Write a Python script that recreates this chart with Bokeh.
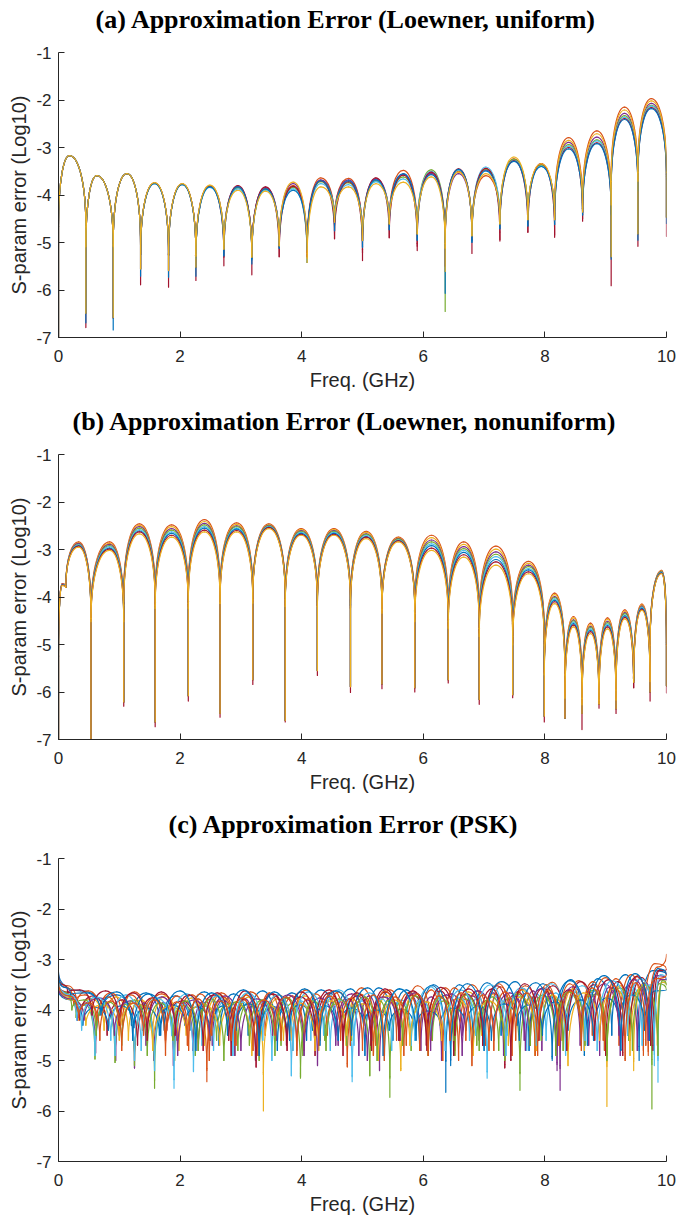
from bokeh.plotting import figure
from bokeh.layouts import column
from bokeh.models import Range1d, FixedTicker, Title
from bokeh.embed import file_html
from bokeh.resources import INLINE

# ---------------- colours (MATLAB default order) ----------------
C_BLUE, C_ORANGE, C_YELLOW = "#0072BD", "#D95319", "#EDB120"
C_PURPLE, C_GREEN, C_LBLUE, C_RED = "#7E2F8E", "#77AC30", "#4DBEEE", "#A2142F"

x_ticks = [0, 2, 4, 6, 8, 10]
x_tick_labels = ["0", "2", "4", "6", "8", "10"]
y_ticks = [-7, -6, -5, -4, -3, -2, -1]
y_tick_labels = ["-7", "-6", "-5", "-4", "-3", "-2", "-1"]

titles = ["(a) Approximation Error (Loewner, uniform)",
          "(b) Approximation Error (Loewner, nonuniform)",
          "(c) Approximation Error (PSK)"]
x_label = "Freq. (GHz)"
y_label = "S-param error (Log10)"

# ---------------- panel (a): notch positions, notch depths, arch peaks ----------------
a_dip_x = [0.0, 0.45, 0.90, 1.35, 1.81, 2.26, 2.72, 3.18, 3.63, 4.09, 4.54, 5.0,
           5.44, 5.90, 6.36, 6.80, 7.26, 7.72, 8.16, 8.62, 9.09, 9.53, 10.0]
a_peak_x = [0.18, 0.63, 1.125, 1.58, 2.035, 2.49, 2.95, 3.405, 3.86, 4.315, 4.77, 5.22,
            5.67, 6.13, 6.58, 7.03, 7.49, 7.94, 8.39, 8.855, 9.31, 9.75]
a_dip_Y = [-7.2, -6.49, -6.58, -5.56, -5.59, -5.52, -5.14, -5.31, -5.07, -5.42, -4.57, -4.96,
           -4.61, -4.82, -5.61, -4.86, -4.61, -4.52, -4.52, -4.36, -5.30, -4.82, -4.47]
a_dip_B = [-7.2, -6.69, -6.84, -5.71, -5.73, -5.71, -5.28, -5.45, -5.12, -5.15, -4.75, -5.10,
           -4.73, -4.95, -6.07, -5.00, -4.71, -4.65, -4.62, -4.42, -5.35, -4.95, -4.60]
a_dip_R = [-7.2, -6.79, -6.60, -5.89, -5.94, -5.80, -5.49, -5.68, -5.30, -5.30, -4.92, -5.38,
           -4.90, -5.17, -5.50, -5.23, -4.97, -4.78, -4.89, -4.55, -5.91, -5.08, -4.87]
a_dip_G = [-7.2, -6.49, -6.58, -5.56, -5.59, -5.52, -5.14, -5.31, -5.07, -5.42, -4.57, -4.96,
           -4.61, -4.82, -6.45, -4.86, -4.61, -4.52, -4.52, -4.36, -5.30, -4.82, -4.47]
a_peak_O = [-3.17, -3.59, -3.55, -3.75, -3.77, -3.80, -3.84, -3.86, -3.80, -3.64, -3.65,
            -3.70, -3.48, -3.55, -3.50, -3.59, -3.24, -3.36, -2.79, -2.65, -2.15, -1.97]
a_peak_P = [-3.17, -3.59, -3.55, -3.75, -3.77, -3.81, -3.82, -3.84, -3.76, -3.68, -3.68,
            -3.66, -3.56, -3.54, -3.55, -3.47, -3.26, -3.38, -2.89, -2.78, -2.28, -2.07]
a_peak_G = [-3.17, -3.59, -3.55, -3.75, -3.77, -3.82, -3.85, -3.88, -3.84, -3.72, -3.74,
            -3.70, -3.62, -3.47, -3.47, -3.45, -3.25, -3.37, -2.94, -2.84, -2.33, -2.11]
a_peak_L = [-3.17, -3.59, -3.55, -3.76, -3.78, -3.84, -3.87, -3.90, -3.87, -3.76, -3.78,
            -3.72, -3.66, -3.50, -3.47, -3.41, -3.27, -3.39, -2.97, -2.86, -2.36, -2.13]
a_peak_R = [-3.17, -3.59, -3.55, -3.75, -3.77, -3.81, -3.80, -3.83, -3.82, -3.70, -3.72,
            -3.64, -3.58, -3.52, -3.45, -3.44, -3.28, -3.34, -3.00, -2.90, -2.39, -2.16]
a_peak_B = [-3.17, -3.59, -3.55, -3.76, -3.78, -3.83, -3.83, -3.87, -3.90, -3.70, -3.70,
            -3.68, -3.55, -3.57, -3.46, -3.49, -3.29, -3.40, -3.03, -2.92, -2.41, -2.18]
a_peak_Y = [-3.17, -3.59, -3.55, -3.74, -3.76, -3.79, -3.90, -3.92, -3.73, -3.83, -3.83,
            -3.76, -3.73, -3.62, -3.52, -3.55, -3.20, -3.34, -2.85, -2.71, -2.21, -2.02]

# ---------------- panel (b) ----------------
b_dip_x = [0.0, 0.12, 0.534, 1.073, 1.59, 2.135, 2.657, 3.196, 3.729, 4.258, 4.802, 5.32,
           5.86, 6.41, 6.92, 7.47, 7.99, 8.33, 8.61, 8.89, 9.17, 9.46, 9.73, 10.0]
b_peak_x = [0.06, 0.33, 0.84, 1.33, 1.86, 2.40, 2.93, 3.46, 3.99, 4.53, 5.06, 5.59,
            6.135, 6.665, 7.195, 7.73, 8.16, 8.47, 8.75, 9.03, 9.315, 9.595, 9.92]
b_dip_Y = [-7.2, -3.80, -7.2, -6.21, -6.63, -6.08, -6.45, -5.74, -6.60, -5.55, -5.89, -5.83,
           -5.91, -5.74, -6.16, -6.06, -6.51, -6.55, -6.45, -6.25, -6.35, -5.79, -6.00, -5.87]
b_dip_R = [-7.2, -3.80, -7.2, -6.30, -6.73, -6.19, -6.53, -5.84, -6.63, -5.65, -6.01, -5.93,
           -6.00, -5.81, -6.26, -6.12, -6.63, -6.55, -6.79, -6.34, -6.45, -5.91, -6.19, -6.02]
b_peak_O = [-3.72, -2.84, -2.84, -2.46, -2.48, -2.37, -2.44, -2.46, -2.56, -2.56, -2.62, -2.74,
            -2.70, -2.84, -2.93, -3.25, -3.92, -4.41, -4.55, -4.44, -4.27, -4.15, -3.44]
b_peak_Ya = [-3.73, -2.86, -2.87, -2.49, -2.52, -2.41, -2.47, -2.48, -2.58, -2.58, -2.64, -2.76,
             -2.75, -2.89, -2.99, -3.29, -3.95, -4.44, -4.58, -4.47, -4.30, -4.17, -3.45]
b_peak_P = [-3.73, -2.87, -2.89, -2.52, -2.56, -2.45, -2.50, -2.49, -2.60, -2.60, -2.67, -2.77,
            -2.80, -2.94, -3.05, -3.33, -3.99, -4.48, -4.62, -4.51, -4.33, -4.19, -3.46]
b_peak_G = [-3.74, -2.89, -2.92, -2.55, -2.59, -2.48, -2.52, -2.50, -2.62, -2.62, -2.68, -2.78,
            -2.84, -2.98, -3.10, -3.36, -4.01, -4.50, -4.64, -4.54, -4.35, -4.21, -3.47]
b_peak_L = [-3.74, -2.90, -2.94, -2.58, -2.63, -2.52, -2.55, -2.52, -2.64, -2.64, -2.70, -2.80,
            -2.88, -3.02, -3.15, -3.40, -4.04, -4.53, -4.67, -4.57, -4.38, -4.22, -3.48]
b_peak_B = [-3.75, -2.92, -2.97, -2.61, -2.66, -2.55, -2.57, -2.53, -2.66, -2.66, -2.73, -2.81,
            -2.92, -3.06, -3.21, -3.43, -4.07, -4.56, -4.70, -4.60, -4.40, -4.24, -3.49]
b_peak_R = [-3.75, -2.93, -2.99, -2.63, -2.70, -2.59, -2.60, -2.54, -2.68, -2.68, -2.74, -2.82,
            -2.97, -3.11, -3.26, -3.47, -4.10, -4.59, -4.73, -4.63, -4.43, -4.26, -3.50]
b_peak_Y = [-3.76, -2.95, -3.02, -2.67, -2.74, -2.63, -2.63, -2.56, -2.70, -2.70, -2.77, -2.84,
            -3.02, -3.16, -3.33, -3.51, -4.14, -4.63, -4.77, -4.67, -4.46, -4.28, -3.51]

# ---------------- panel (c): each trace has its own notches ----------------
c_B1_x = [0, 0.72, 1.20, 1.68, 2.16, 2.64, 3.12, 3.60, 4.08, 4.56, 5.04, 5.50, 5.94, 6.37,
          6.82, 7.28, 7.74, 8.20, 8.65, 9.10, 9.55, 10.0]
c_B1_d = [-3.25, -4.0, -4.3, -4.5, -4.4, -4.7, -4.5, -4.8, -4.6, -4.5, -4.9, -4.6, -4.8, -5.63,
          -4.7, -4.5, -4.8, -4.6, -4.9, -4.5, -5.0, -3.3]
c_B1_p = [-3.62, -3.70, -3.66, -3.72, -3.64, -3.68, -3.62, -3.66, -3.60, -3.58, -3.56, -3.60,
          -3.52, -3.50, -3.46, -3.44, -3.48, -3.40, -3.38, -3.30, -3.22]

c_O1_x = [0, 0.30, 0.68, 1.05, 1.45, 1.95, 2.44, 2.92, 3.40, 3.85, 4.30, 4.75, 5.22, 5.68,
          6.14, 6.58, 7.02, 7.46, 7.90, 8.34, 8.78, 9.22, 9.62, 10.0]
c_O1_d = [-3.35, -3.9, -4.1, -4.3, -4.4, -4.6, -5.42, -4.7, -4.5, -4.8, -4.6, -5.13, -4.7, -4.9,
          -4.6, -5.0, -4.7, -4.9, -4.6, -4.8, -4.5, -4.7, -4.9, -3.2]
c_O1_p = [-3.52, -3.62, -3.66, -3.64, -3.68, -3.70, -3.66, -3.64, -3.70, -3.60, -3.62, -3.56,
          -3.60, -3.52, -3.56, -3.50, -3.48, -3.52, -3.45, -3.42, -3.36, -3.30, -3.08]

c_Y1_x = [0, 0.33, 0.75, 1.15, 1.55, 1.98, 2.40, 2.90, 3.37, 3.82, 4.28, 4.73, 5.18, 5.63,
          6.08, 6.52, 6.96, 7.40, 7.84, 8.28, 8.65, 9.02, 9.46, 9.80, 10.0]
c_Y1_d = [-3.45, -4.2, -4.4, -4.6, -4.5, -4.8, -4.7, -4.9, -6.0, -4.6, -4.8, -4.7, -4.9, -5.2,
          -4.6, -4.8, -4.5, -4.7, -4.9, -4.6, -4.8, -5.91, -5.2, -4.7, -3.4]
c_Y1_p = [-3.75, -3.78, -3.74, -3.80, -3.72, -3.76, -3.70, -3.74, -3.78, -3.72, -3.76, -3.68,
          -3.72, -3.66, -3.70, -3.64, -3.68, -3.60, -3.64, -3.58, -3.62, -3.52, -3.46, -3.40]

c_P_x = [0, 0.31, 0.61, 0.94, 1.25, 1.57, 1.89, 2.21, 2.53, 2.90, 3.24, 3.58, 3.92, 4.26, 4.60,
         4.94, 5.28, 5.62, 5.96, 6.30, 6.64, 6.98, 7.32, 7.66, 7.95, 8.25, 8.58, 8.90, 9.22,
         9.52, 9.80, 10.0]
c_P_d = [-3.5, -4.2, -4.85, -5.0, -5.15, -5.0, -5.1, -4.8, -4.7, -4.9, -5.0, -4.6, -4.8, -5.1,
         -4.7, -4.9, -5.2, -4.6, -4.8, -5.0, -4.5, -4.7, -4.9, -4.6, -4.8, -5.59, -4.7, -4.9,
         -4.5, -4.8, -4.6, -3.4]
c_P_p = [-3.68, -3.86, -3.85, -3.84, -3.86, -3.85, -3.86, -3.84, -3.80, -3.78, -3.82, -3.76,
         -3.80, -3.74, -3.78, -3.72, -3.76, -3.70, -3.74, -3.68, -3.72, -3.66, -3.70, -3.62,
         -3.66, -3.60, -3.64, -3.55, -3.52, -3.46, -3.40]

c_G_x = [0, 0.29, 0.60, 0.93, 1.25, 1.58, 1.91, 2.25, 2.60, 2.95, 3.30, 3.66, 4.02, 4.38, 4.74,
         5.12, 5.45, 5.80, 6.15, 6.52, 6.88, 7.24, 7.59, 7.94, 8.30, 8.66, 9.02, 9.38, 9.76, 10.0]
c_G_d = [-3.55, -4.15, -4.97, -5.04, -5.1, -5.55, -5.0, -4.9, -4.6, -4.8, -5.0, -4.7, -4.9, -4.6,
         -4.7, -5.3, -5.73, -4.8, -4.6, -4.9, -4.7, -4.8, -5.59, -4.6, -4.8, -4.7, -4.9, -4.6,
         -5.96, -3.6]
c_G_p = [-3.70, -3.90, -3.87, -3.88, -3.90, -3.88, -3.90, -3.92, -3.88, -3.86, -3.90, -3.87,
         -3.85, -3.88, -3.84, -3.82, -3.85, -3.80, -3.82, -3.78, -3.80, -3.76, -3.74, -3.72,
         -3.70, -3.68, -3.62, -3.58, -3.48]

c_L_x = [0, 0.30, 0.60, 0.93, 1.25, 1.58, 1.90, 2.22, 2.55, 2.87, 3.19, 3.51, 3.83, 4.15, 4.47,
         4.83, 5.16, 5.48, 5.80, 6.12, 6.45, 6.76, 7.05, 7.38, 7.70, 8.02, 8.34, 8.66, 8.98,
         9.30, 9.60, 9.86, 10.0]
c_L_d = [-3.45, -4.2, -4.9, -4.9, -5.0, -5.2, -5.55, -5.22, -4.8, -4.9, -4.7, -5.0, -5.3, -4.6,
         -4.8, -5.42, -4.6, -4.8, -4.7, -4.5, -4.9, -4.6, -5.35, -4.5, -4.8, -4.6, -4.9, -4.6,
         -4.8, -4.5, -4.7, -5.43, -3.5]
c_L_p = [-3.72, -3.88, -3.86, -3.86, -3.88, -3.87, -3.88, -3.86, -3.85, -3.84, -3.85, -3.83,
         -3.82, -3.83, -3.80, -3.82, -3.78, -3.80, -3.76, -3.74, -3.75, -3.73, -3.72, -3.70,
         -3.68, -3.66, -3.65, -3.62, -3.58, -3.55, -3.50, -3.45]

c_R_x = [0, 0.35, 0.80, 1.30, 1.78, 2.30, 2.80, 3.25, 3.75, 4.22, 4.68, 5.15, 5.60, 6.05, 6.50,
         6.92, 7.34, 7.76, 8.18, 8.60, 9.00, 9.40, 9.78, 10.0]
c_R_d = [-3.5, -4.2, -4.5, -4.7, -4.4, -4.8, -4.6, -5.13, -4.7, -4.9, -4.6, -4.8, -4.5, -4.7,
         -4.9, -4.6, -5.15, -4.7, -4.8, -4.5, -4.9, -4.6, -4.8, -3.3]
c_R_p = [-3.65, -3.72, -3.80, -3.76, -3.82, -3.70, -3.78, -3.68, -3.74, -3.66, -3.72, -3.64,
         -3.70, -3.62, -3.68, -3.58, -3.64, -3.56, -3.60, -3.50, -3.44, -3.36, -3.20]

c_B2_x = [0, 0.40, 0.82, 1.24, 1.66, 2.08, 2.50, 2.92, 3.34, 3.76, 4.18, 4.60, 5.02, 5.44, 5.86,
          6.28, 6.70, 7.12, 7.54, 7.96, 8.38, 8.80, 9.22, 9.64, 10.0]
c_B2_d = [-3.6, -4.3, -4.4, -4.35, -4.5, -4.3, -4.6, -4.4, -4.3, -4.5, -4.4, -4.6, -4.3, -4.4,
          -4.5, -4.3, -4.4, -4.6, -4.3, -4.5, -4.4, -4.6, -4.3, -4.4, -3.6]
c_B2_p = [-3.80, -3.95, -3.92, -3.96, -3.90, -3.94, -3.92, -3.88, -3.94, -3.90, -3.92, -3.96,
          -4.00, -3.98, -4.02, -3.96, -3.92, -3.88, -3.90, -3.84, -3.80, -3.76, -3.70, -3.62]

c_O2_x = [0, 0.25, 0.62, 1.00, 1.38, 1.76, 2.14, 2.52, 2.90, 3.28, 3.66, 4.04, 4.42, 4.80, 5.18,
          5.56, 5.94, 6.32, 6.70, 7.08, 7.46, 7.84, 8.22, 8.60, 8.98, 9.36, 9.70, 10.0]
c_O2_d = [-3.4, -3.9, -4.3, -4.5, -4.4, -4.6, -4.8, -4.5, -4.7, -4.9, -4.6, -4.8, -4.5, -4.7,
          -4.9, -4.6, -4.8, -5.0, -4.6, -4.8, -4.5, -4.9, -4.7, -4.6, -4.8, -4.5, -4.9, -2.9]
c_O2_p = [-3.55, -3.70, -3.74, -3.70, -3.76, -3.72, -3.68, -3.74, -3.70, -3.66, -3.72, -3.68,
          -3.64, -3.70, -3.62, -3.66, -3.60, -3.56, -3.62, -3.54, -3.58, -3.50, -3.48, -3.44,
          -3.38, -3.32, -3.15]

c_Y2_x = [0, 0.45, 1.00, 1.55, 2.10, 2.65, 3.18, 3.70, 4.22, 4.74, 5.26, 5.78, 6.30, 6.82, 7.34,
          7.86, 8.38, 8.90, 9.40, 9.85, 10.0]
c_Y2_d = [-3.5, -4.3, -4.6, -4.8, -4.5, -4.7, -4.9, -4.6, -4.8, -4.5, -5.0, -4.7, -4.6, -4.9,
          -4.7, -4.8, -5.1, -4.6, -4.9, -4.7, -3.5]
c_Y2_p = [-3.80, -3.90, -3.86, -3.92, -3.88, -3.84, -3.90, -3.86, -3.82, -3.88, -3.80, -3.84,
          -3.78, -3.82, -3.74, -3.70, -3.66, -3.58, -3.50, -3.45]

c_P2_x = [0, 0.42, 0.92, 1.44, 1.96, 2.48, 3.00, 3.52, 4.04, 4.56, 5.08, 5.60, 6.12, 6.64, 7.16,
          7.68, 8.20, 8.72, 9.24, 9.70, 10.0]
c_P2_d = [-3.55, -4.2, -4.5, -4.7, -4.9, -4.6, -4.8, -4.5, -4.9, -4.7, -5.0, -4.6, -4.8, -4.9,
          -4.6, -4.8, -5.2, -4.7, -4.9, -4.6, -3.4]
c_P2_p = [-3.78, -3.76, -3.82, -3.74, -3.80, -3.72, -3.78, -3.70, -3.76, -3.68, -3.74, -3.66,
          -3.70, -3.62, -3.66, -3.58, -3.54, -3.48, -3.40, -3.32]

c_G2_x = [0, 0.22, 0.62, 1.04, 1.46, 1.88, 2.30, 2.72, 3.14, 3.56, 3.98, 4.40, 4.82, 5.24, 5.66,
          6.08, 6.50, 6.92, 7.34, 7.76, 8.18, 8.60, 9.02, 9.44, 9.86, 10.0]
c_G2_d = [-3.5, -4.0, -4.5, -4.7, -4.9, -4.6, -4.8, -5.0, -4.7, -4.9, -5.35, -4.8, -4.6, -5.0,
          -4.7, -4.9, -4.6, -4.8, -5.0, -4.7, -4.9, -4.6, -5.0, -4.8, -4.9, -3.5]
c_G2_p = [-3.65, -3.80, -3.84, -3.80, -3.86, -3.82, -3.78, -3.84, -3.80, -3.76, -3.82, -3.78,
          -3.74, -3.80, -3.72, -3.76, -3.70, -3.74, -3.68, -3.70, -3.64, -3.60, -3.56, -3.50,
          -3.42]

c_L2_x = [0, 0.38, 0.86, 1.36, 1.86, 2.36, 2.86, 3.36, 3.86, 4.36, 4.86, 5.36, 5.86, 6.36, 6.86,
          7.36, 7.86, 8.36, 8.86, 9.36, 9.80, 10.0]
c_L2_d = [-3.4, -4.4, -4.6, -4.8, -4.5, -4.7, -4.9, -4.6, -4.8, -4.5, -4.7, -5.0, -4.6, -4.8,
          -4.5, -4.9, -4.7, -4.6, -4.8, -4.5, -5.1, -3.4]
c_L2_p = [-3.70, -3.74, -3.70, -3.76, -3.68, -3.72, -3.66, -3.70, -3.64, -3.60, -3.66, -3.58,
          -3.54, -3.60, -3.50, -3.56, -3.48, -3.52, -3.42, -3.38, -3.30]

c_R2_x = [0, 0.15, 0.55, 1.00, 1.46, 1.92, 2.38, 2.84, 3.30, 3.76, 4.22, 4.68, 5.14, 5.60, 6.06,
          6.52, 6.98, 7.44, 7.90, 8.36, 8.82, 9.28, 9.74, 10.0]
c_R2_d = [-3.3, -3.65, -4.1, -4.3, -4.6, -4.5, -4.8, -4.9, -4.6, -4.8, -4.5, -4.9, -4.7, -4.6,
          -4.8, -4.5, -4.7, -5.0, -4.6, -4.8, -4.6, -4.9, -4.7, -3.2]
c_R2_p = [-3.50, -3.60, -3.62, -3.66, -3.64, -3.70, -3.66, -3.62, -3.68, -3.64, -3.60, -3.66,
          -3.58, -3.62, -3.55, -3.58, -3.52, -3.48, -3.52, -3.44, -3.40, -3.34, -3.22]

c_B3_x = [0, 0.20, 0.70, 1.22, 1.74, 2.26, 2.78, 3.30, 3.80, 4.30, 4.82, 5.34, 5.88, 6.45, 7.00,
          7.58, 8.12, 8.70, 9.25, 9.72, 10.0]
c_B3_d = [-3.3, -3.7, -4.1, -4.6, -4.4, -4.8, -4.5, -4.9, -4.6, -4.7, -4.5, -4.9, -4.6, -5.1,
          -4.8, -4.6, -5.0, -4.7, -4.8, -4.6, -3.3]
c_B3_p = [-3.55, -3.66, -3.64, -3.68, -3.62, -3.66, -3.60, -3.64, -3.58, -3.62, -3.56, -3.58,
          -3.50, -3.48, -3.44, -3.46, -3.42, -3.32, -3.28, -3.18]

c_O3_x = [0, 0.33, 0.68, 1.04, 1.40, 1.76, 2.12, 2.48, 2.84, 3.20, 3.56, 3.92, 4.28, 4.64, 5.00,
          5.36, 5.72, 6.08, 6.44, 6.80, 7.16, 7.52, 7.88, 8.24, 8.60, 8.96, 9.32, 9.66, 10.0]
c_O3_d = [-3.45, -4.15, -4.6, -4.8, -4.5, -4.9, -4.7, -5.0, -4.6, -4.8, -4.5, -4.9, -4.7, -4.6,
          -4.8, -5.0, -4.7, -4.9, -4.6, -5.1, -4.8, -4.6, -4.9, -4.7, -4.8, -4.6, -5.0, -4.7, -3.3]
c_O3_p = [-3.72, -3.86, -3.82, -3.86, -3.80, -3.84, -3.78, -3.82, -3.76, -3.80, -3.74, -3.78,
          -3.72, -3.76, -3.70, -3.74, -3.68, -3.72, -3.66, -3.70, -3.64, -3.66, -3.60, -3.62,
          -3.56, -3.52, -3.46, -3.38]

ARCH_DEPTH = 1.5   # depth of the rounded lobe before a notch turns into a vertical spike
LINE_W = 1.2


def add_trace(p, dip_x, dip_y, peaks, color, peak_x=None, lw=LINE_W):
    n = len(peaks)
    x0, y0, x1, y1, cx0, cy0, cx1, cy1 = ([] for _ in range(8))
    bl_list, br_list = [], []
    for i in range(n):
        xl, xr = dip_x[i], dip_x[i + 1]
        xp = peak_x[i] if peak_x is not None else 0.5 * (xl + xr)
        pk = peaks[i]
        bl = max(dip_y[i], pk - ARCH_DEPTH)
        br = max(dip_y[i + 1], pk - ARCH_DEPTH)
        bl_list.append(bl)
        br_list.append(br)
        x0.append(xl); y0.append(bl)
        cx0.append(xl); cy0.append(bl + (pk - bl) * 2.0 / 3.0)
        cx1.append(0.5 * (xl + xp)); cy1.append(pk)
        x1.append(xp); y1.append(pk)
        x0.append(xp); y0.append(pk)
        cx0.append(0.5 * (xp + xr)); cy0.append(pk)
        cx1.append(xr); cy1.append(br + (pk - br) * 2.0 / 3.0)
        x1.append(xr); y1.append(br)
    p.bezier(x0=x0, y0=y0, x1=x1, y1=y1, cx0=cx0, cy0=cy0, cx1=cx1, cy1=cy1,
             line_color=color, line_width=lw, line_cap="round")
    sx, sy0, sy1 = [], [], []
    for j in range(len(dip_x)):
        tops = []
        if j > 0:
            tops.append(br_list[j - 1])
        if j < n:
            tops.append(bl_list[j])
        top = max(tops)
        if top > dip_y[j]:
            sx.append(dip_x[j]); sy0.append(dip_y[j]); sy1.append(top)
    if sx:
        p.segment(x0=sx, y0=sy0, x1=sx, y1=sy1, line_color=color, line_width=lw,
                  line_cap="round")


def make_fig(title, height, top, bottom, left, right, title_offset, gap):
    p = figure(width=679, height=height, x_range=Range1d(0, 10), y_range=Range1d(-7, -1),
               output_backend="svg", toolbar_location=None,
               min_border_left=left, min_border_right=right,
               min_border_top=top, min_border_bottom=bottom)
    p.outline_line_color = None
    p.grid.visible = False
    p.background_fill_color = "white"
    # blank spacer between the frame and the title, then the title itself
    p.add_layout(Title(text=" ", text_font_size="8px", standoff=gap), "above")
    p.add_layout(Title(text=title, text_font="Liberation Serif", text_font_style="bold",
                       text_font_size="26px", text_color="black", align="left",
                       offset=title_offset, vertical_align="top", standoff=6), "above")
    for ax, ticks, labels in ((p.xaxis[0], x_ticks, x_tick_labels),
                              (p.yaxis[0], y_ticks, y_tick_labels)):
        ax.ticker = FixedTicker(ticks=ticks)
        ax.major_label_overrides = {t: l for t, l in zip(ticks, labels)}
        ax.major_tick_in = 6
        ax.major_tick_out = 0
        ax.minor_tick_line_color = None
        ax.axis_line_color = "#262626"
        ax.major_tick_line_color = "#262626"
        ax.major_label_text_font = "Liberation Sans"
        ax.major_label_text_font_size = "17px"
        ax.major_label_text_color = "#262626"
        ax.axis_label_text_font = "Liberation Sans"
        ax.axis_label_text_font_size = "20px"
        ax.axis_label_text_font_style = "normal"
        ax.axis_label_text_color = "#262626"
    p.xaxis.axis_label = x_label
    p.yaxis.axis_label = y_label
    p.xaxis.major_label_standoff = 12
    p.xaxis.axis_label_standoff = 4
    p.yaxis.major_label_standoff = 7
    p.yaxis.axis_label_standoff = 3
    return p


pa = make_fig(titles[0], 402, 52, 65, 55, 11, 37, 3)
add_trace(pa, a_dip_x, a_dip_Y, a_peak_O, C_ORANGE, a_peak_x)
add_trace(pa, a_dip_x, a_dip_Y, a_peak_P, C_PURPLE, a_peak_x)
add_trace(pa, a_dip_x, a_dip_G, a_peak_G, C_GREEN, a_peak_x)
add_trace(pa, a_dip_x, a_dip_Y, a_peak_L, C_LBLUE, a_peak_x)
add_trace(pa, a_dip_x, a_dip_R, a_peak_R, C_RED, a_peak_x)
add_trace(pa, a_dip_x, a_dip_B, a_peak_B, C_BLUE, a_peak_x)
add_trace(pa, a_dip_x, a_dip_Y, a_peak_Y, C_YELLOW, a_peak_x)

pb = make_fig(titles[1], 403, 52, 66, 55, 12, 14, 3)
add_trace(pb, b_dip_x, b_dip_Y, b_peak_O, C_ORANGE, b_peak_x)
add_trace(pb, b_dip_x, b_dip_Y, b_peak_Ya, C_YELLOW, b_peak_x)
add_trace(pb, b_dip_x, b_dip_Y, b_peak_P, C_PURPLE, b_peak_x)
add_trace(pb, b_dip_x, b_dip_Y, b_peak_G, C_GREEN, b_peak_x)
add_trace(pb, b_dip_x, b_dip_Y, b_peak_L, C_LBLUE, b_peak_x)
add_trace(pb, b_dip_x, b_dip_Y, b_peak_B, C_BLUE, b_peak_x)
add_trace(pb, b_dip_x, b_dip_R, b_peak_R, C_RED, b_peak_x)
add_trace(pb, b_dip_x, b_dip_Y, b_peak_Y, C_YELLOW, b_peak_x)

pc = make_fig(titles[2], 420, 53, 64, 58, 13, 110, 4)
for xs, ds, ps, col in ((c_B1_x, c_B1_d, c_B1_p, C_BLUE),
                        (c_O1_x, c_O1_d, c_O1_p, C_ORANGE),
                        (c_Y1_x, c_Y1_d, c_Y1_p, C_YELLOW),
                        (c_P_x, c_P_d, c_P_p, C_PURPLE),
                        (c_G_x, c_G_d, c_G_p, C_GREEN),
                        (c_L_x, c_L_d, c_L_p, C_LBLUE),
                        (c_R_x, c_R_d, c_R_p, C_RED),
                        (c_B2_x, c_B2_d, c_B2_p, C_BLUE),
                        (c_O2_x, c_O2_d, c_O2_p, C_ORANGE),
                        (c_Y2_x, c_Y2_d, c_Y2_p, C_YELLOW),
                        (c_P2_x, c_P2_d, c_P2_p, C_PURPLE),
                        (c_G2_x, c_G2_d, c_G2_p, C_GREEN),
                        (c_L2_x, c_L2_d, c_L2_p, C_LBLUE),
                        (c_R2_x, c_R2_d, c_R2_p, C_RED),
                        (c_B3_x, c_B3_d, c_B3_p, C_BLUE),
                        (c_O3_x, c_O3_d, c_O3_p, C_ORANGE)):
    add_trace(pc, xs, ds, ps, col)

layout = column(pa, pb, pc, spacing=0)
open("out.html", "w").write(file_html(layout, INLINE))
